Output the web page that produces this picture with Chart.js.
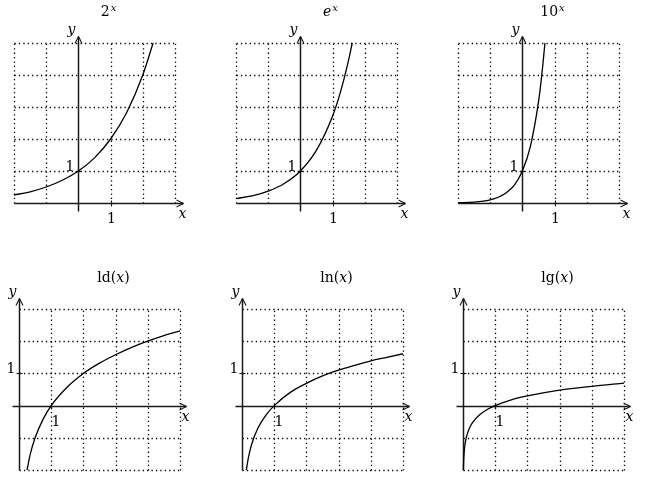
<!DOCTYPE html>
<html lang="en">
<head>
<meta charset="UTF-8">
<title>Exponential and logarithm functions</title>
<script src="https://cdn.jsdelivr.net/npm/chart.js"></script>
<style>
  body { margin: 0; background: #fff; }
  .wrap { position: relative; width: 646px; height: 486px; overflow: hidden; }
  .wrap canvas { position: absolute; }
</style>
</head>
<body>
<div class="wrap">
  <canvas id="pow2" width="200" height="230" style="left:0px;top:0px"></canvas>
  <canvas id="powE" width="200" height="230" style="left:222px;top:0px"></canvas>
  <canvas id="pow10" width="200" height="230" style="left:444px;top:0px"></canvas>
  <canvas id="ld" width="200" height="226" style="left:0px;top:260px"></canvas>
  <canvas id="ln" width="200" height="226" style="left:223px;top:260px"></canvas>
  <canvas id="lg" width="200" height="226" style="left:444px;top:260px"></canvas>
</div>
<script>
// grid lines
const expGridX = [-2, -1, 0, 1, 2, 3];
const expGridY = [0, 1, 2, 3, 4, 5];
const logGridX = [0, 1, 2, 3, 4, 5];
const logGridY = [-2, -1, 0, 1, 2, 3];

// curves
const pow2X = [-2, -1.5, -1, -0.5, 0, 0.5, 1, 1.5, 2, 2.32];
const pow2Y = [0.25, 0.35, 0.5, 0.71, 1, 1.41, 2, 2.83, 4, 5];

const powEX = [-2, -1.5, -1, -0.5, 0, 0.5, 1, 1.25, 1.5, 1.61];
const powEY = [0.14, 0.22, 0.37, 0.61, 1, 1.65, 2.72, 3.49, 4.48, 5];

const pow10X = [-2, -1.5, -1, -0.75, -0.5, -0.25, 0, 0.25, 0.5, 0.6, 0.7];
const pow10Y = [0.01, 0.03, 0.1, 0.18, 0.32, 0.56, 1, 1.78, 3.16, 3.98, 5];

const ldX = [0.25, 0.35, 0.5, 0.75, 1, 1.5, 2, 2.5, 3, 3.5, 4, 4.5, 5];
const ldY = [-2, -1.51, -1, -0.42, 0, 0.58, 1, 1.32, 1.58, 1.81, 2, 2.17, 2.32];

const lnX = [0.135, 0.2, 0.3, 0.5, 0.75, 1, 1.5, 2, 2.5, 3, 3.5, 4, 4.5, 5];
const lnY = [-2, -1.61, -1.2, -0.69, -0.29, 0, 0.41, 0.69, 0.92, 1.1, 1.25, 1.39, 1.5, 1.61];

const lgX = [0.01, 0.02, 0.05, 0.1, 0.2, 0.3, 0.5, 0.75, 1, 1.5, 2, 3, 4, 5];
const lgY = [-2, -1.7, -1.3, -1, -0.7, -0.52, -0.3, -0.12, 0, 0.18, 0.3, 0.48, 0.6, 0.7];

const FONT = '"DejaVu Serif", "Liberation Serif", serif';

const axesPlugin = {
  id: 'axes',
  beforeDatasetsDraw(chart, args, o) {
    const ctx = chart.ctx, xs = chart.scales.x, ys = chart.scales.y;
    const X = v => Math.round(xs.getPixelForValue(v)) + 0.5;
    const Y = v => Math.round(ys.getPixelForValue(v)) + 0.5;
    const seg = (x1, y1, x2, y2) => { ctx.beginPath(); ctx.moveTo(x1, y1); ctx.lineTo(x2, y2); ctx.stroke(); };
    const gx = o.gridX, gy = o.gridY;
    const x0 = gx[0], x1 = gx[gx.length - 1], y0 = gy[0], y1 = gy[gy.length - 1];
    ctx.save();

    // dotted grid
    ctx.strokeStyle = '#000';
    ctx.lineWidth = 1.3;
    ctx.setLineDash([1.3, 3.1]);
    gx.forEach(v => { if (v !== 0) seg(X(v), Y(y0), X(v), Y(y1)); });
    gy.forEach(v => { if (v !== 0) seg(X(x0), Y(v), X(x1), Y(v)); });
    ctx.setLineDash([]);

    // axes with arrows
    ctx.strokeStyle = '#1a1a1a';
    ctx.lineWidth = 1.5;
    const ax = Y(0), ay = X(0);
    const tipX = X(o.xTip), tipY = Y(o.yTip);
    seg(X(o.xFrom), ax, tipX, ax);
    seg(ay, Y(o.yFrom), ay, tipY);
    ctx.lineWidth = 1.1;
    seg(tipX, ax, tipX - 7, ax - 3.5); seg(tipX, ax, tipX - 7, ax + 3.5);
    seg(ay, tipY, ay - 3.5, tipY + 7); seg(ay, tipY, ay + 3.5, tipY + 7);
    // ticks at 1
    seg(X(1), ax - 3, X(1), ax + 3);
    seg(ay - 3, Y(1), ay + 3, Y(1));

    // labels
    ctx.fillStyle = '#000';
    ctx.textBaseline = 'alphabetic';
    ctx.font = '14px ' + FONT;
    ctx.textAlign = o.oneBelowRight ? 'left' : 'center';
    ctx.fillText('1', X(1), ax + 19);
    ctx.textAlign = 'right';
    ctx.fillText('1', ay - 4, Y(1) - 0.5);
    ctx.font = 'italic 14px ' + FONT;
    ctx.fillText('y', ay - 3, tipY - 3);
    ctx.textAlign = 'center';
    ctx.fillText('x', tipX - 1, ax + 14);

    // title with superscript runs
    const runs = o.title;
    const fontOf = r => (r.it ? 'italic ' : '') + (r.sup ? '10px ' : '14px ') + FONT;
    let w = 0;
    runs.forEach(r => { ctx.font = fontOf(r); w += ctx.measureText(r.t).width + (r.sup ? 1 : 0); });
    const cx = (xs.getPixelForValue(x0) + xs.getPixelForValue(x1)) / 2 + 14;
    const base = chart.chartArea.top - 27;
    let x = cx - w / 2;
    ctx.textAlign = 'left';
    runs.forEach(r => {
      ctx.font = fontOf(r);
      if (r.sup) x += 1;
      ctx.fillText(r.t, x, base - (r.sup ? 5 : 0));
      x += ctx.measureText(r.t).width;
    });
    ctx.restore();
  }
};

function makePanel(id, xs, ys, grids, title, extra, padding) {
  const pts = xs.map((x, i) => ({ x: x, y: ys[i] }));
  const gx = grids[0], gy = grids[1];
  return new Chart(document.getElementById(id), {
    type: 'line',
    data: {
      datasets: [{
        data: pts,
        borderColor: '#000',
        borderWidth: 1.3,
        pointRadius: 0,
        fill: false,
        cubicInterpolationMode: 'monotone'
      }]
    },
    options: {
      responsive: false,
      animation: false,
      events: [],
      clip: false,
      layout: { padding: padding },
      scales: {
        x: { type: 'linear', min: gx[0], max: gx[gx.length - 1], display: false },
        y: { type: 'linear', min: gy[0], max: gy[gy.length - 1], display: false }
      },
      plugins: {
        legend: { display: false },
        tooltip: { enabled: false },
        axes: Object.assign({ gridX: gx, gridY: gy, title: title }, extra)
      }
    },
    plugins: [axesPlugin]
  });
}

const expGrid = [expGridX, expGridY];
const logGrid = [logGridX, logGridY];
const expAxes = { xFrom: -2, xTip: 3.25, yFrom: -0.25, yTip: 5.22, oneBelowRight: false };
const logAxes = { xFrom: -0.22, xTip: 5.2, yFrom: -2, yTip: 3.34, oneBelowRight: true };
const topPad = { left: 14, top: 43, right: 25, bottom: 27 };
const botPad = { left: 19, top: 49, right: 20, bottom: 16 };

makePanel('pow2', pow2X, pow2Y, expGrid, [{ t: '2' }, { t: 'x', it: true, sup: true }], expAxes, topPad);
makePanel('powE', powEX, powEY, expGrid, [{ t: 'e', it: true }, { t: 'x', it: true, sup: true }], expAxes, topPad);
makePanel('pow10', pow10X, pow10Y, expGrid, [{ t: '10' }, { t: 'x', it: true, sup: true }], expAxes, topPad);
makePanel('ld', ldX, ldY, logGrid, [{ t: 'ld(' }, { t: 'x', it: true }, { t: ')' }], logAxes, botPad);
makePanel('ln', lnX, lnY, logGrid, [{ t: 'ln(' }, { t: 'x', it: true }, { t: ')' }], logAxes, botPad);
makePanel('lg', lgX, lgY, logGrid, [{ t: 'lg(' }, { t: 'x', it: true }, { t: ')' }], logAxes, botPad);
</script>
</body>
</html>
